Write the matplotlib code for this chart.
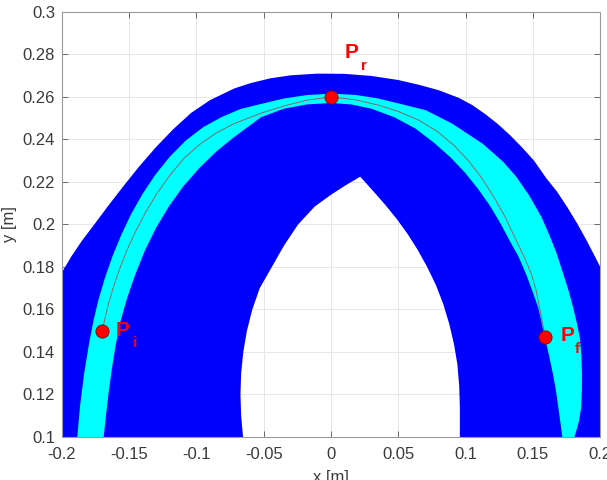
"""Workspace region with the planned end-effector path (Pi -> Pr -> Pf)."""

import matplotlib

matplotlib.use("Agg")

import matplotlib.pyplot as plt

plt.rcParams["font.family"] = ["Liberation Sans", "DejaVu Sans"]

# outer boundary of the reachable area (left to right)
outer_x = [-0.200, -0.193, -0.185, -0.176, -0.166, -0.155, -0.143, -0.130,
           -0.117, -0.104, -0.090, -0.072, -0.060, -0.045, -0.030, -0.010,
           0.010, 0.030, 0.050, 0.065, 0.080, 0.095, 0.105, 0.115, 0.124,
           0.133, 0.142, 0.151, 0.160, 0.168, 0.176, 0.183, 0.190, 0.196, 0.200]
outer_y = [0.1775, 0.1850, 0.1925, 0.2000, 0.2085, 0.2175, 0.2270, 0.2365,
           0.2450, 0.2525, 0.2585, 0.2640, 0.2665, 0.2688, 0.2702, 0.2710,
           0.2709, 0.2699, 0.2680, 0.2658, 0.2632, 0.2596, 0.2562, 0.2518,
           0.2473, 0.2421, 0.2363, 0.2300, 0.2218, 0.2155, 0.2078, 0.2005,
           0.1925, 0.1852, 0.1802]

# unreachable pocket in the middle (left foot -> apex -> right foot)
hole_x = [-0.0654, -0.0668, -0.0673, -0.0668, -0.0652, -0.0625, -0.0585,
          -0.0530, -0.0440, -0.0350, -0.0245, -0.0120, 0.0000, 0.0110,
          0.0217, 0.0310, 0.0400, 0.0490, 0.0570, 0.0645, 0.0715, 0.0780,
          0.0835, 0.0880, 0.0915, 0.0940, 0.0953, 0.0958, 0.0958]
hole_y = [0.100, 0.110, 0.120, 0.130, 0.140, 0.150, 0.160, 0.170, 0.180,
          0.190, 0.200, 0.2085, 0.2140, 0.2185, 0.2225, 0.2160, 0.2095,
          0.2025, 0.1955, 0.1880, 0.1800, 0.1715, 0.1625, 0.1530, 0.1435,
          0.1340, 0.1240, 0.1140, 0.100]

# cyan band: outer edge (left foot -> top -> right foot)
band_out_x = [-0.1886, -0.1865, -0.1835, -0.1796, -0.1765, -0.1727, -0.1680,
              -0.1625, -0.1560, -0.1485, -0.1400, -0.1305, -0.1200, -0.1080,
              -0.0950, -0.0815, -0.0675, -0.0516, -0.0350, -0.0180, 0.0000,
              0.0180, 0.0350, 0.0520, 0.0704, 0.0900, 0.1128, 0.1280, 0.1377,
              0.1475, 0.1565, 0.1627, 0.1677, 0.1727, 0.1768, 0.1800, 0.1828,
              0.1850, 0.1862, 0.1866, 0.1865, 0.1860, 0.1842, 0.1810]
band_out_y = [0.1000, 0.1150, 0.1300, 0.1450, 0.1550, 0.1650, 0.1750, 0.1850,
              0.1950, 0.2050, 0.2145, 0.2235, 0.2318, 0.2395, 0.2458, 0.2505,
              0.2543, 0.2568, 0.2593, 0.2609, 0.2616, 0.2610, 0.2593, 0.2567,
              0.2538, 0.2475, 0.2380, 0.2295, 0.2225, 0.2135, 0.2035, 0.1945,
              0.1865, 0.1767, 0.1685, 0.1610, 0.1535, 0.1468, 0.1380, 0.1296,
              0.1220, 0.1138, 0.1070, 0.1000]

# cyan band: inner edge (right foot -> top -> left foot)
band_in_x = [0.1720, 0.1705, 0.1690, 0.1672, 0.1650, 0.1622, 0.1590, 0.1567,
             0.1540, 0.1498, 0.1450, 0.1393, 0.1327, 0.1260, 0.1180, 0.1090,
             0.0995, 0.0890, 0.0765, 0.0629, 0.0470, 0.0300, 0.0150, 0.0000,
             -0.0180, -0.0350, -0.0520, -0.0719, -0.0850, -0.0980, -0.1100,
             -0.1205, -0.1300, -0.1385, -0.1455, -0.1515, -0.1565, -0.1600,
             -0.1628, -0.1652, -0.1672, -0.1690]
band_in_y = [0.1000, 0.1070, 0.1138, 0.1220, 0.1296, 0.1380, 0.1468, 0.1535,
             0.1610, 0.1685, 0.1767, 0.1850, 0.1925, 0.2005, 0.2090, 0.2170,
             0.2245, 0.2315, 0.2385, 0.2451, 0.2505, 0.2545, 0.2565, 0.2572,
             0.2565, 0.2545, 0.2505, 0.2412, 0.2345, 0.2265, 0.2178, 0.2085,
             0.1985, 0.1875, 0.1765, 0.1655, 0.1545, 0.1435, 0.1325, 0.1215,
             0.1105, 0.1000]

# planned path Pi -> Pr -> Pf
path_x = [-0.1700, -0.1683, -0.1655, -0.1620, -0.1575, -0.1520, -0.1455,
          -0.1380, -0.1295, -0.1200, -0.1095, -0.0980, -0.0855, -0.0719,
          -0.0516, -0.0350, -0.0180, 0.0000, 0.0180, 0.0350, 0.0500, 0.0650,
          0.0790, 0.0915, 0.1025, 0.1125, 0.1215, 0.1295, 0.1377, 0.1438,
          0.1490, 0.1525, 0.1550, 0.1572, 0.1590]
path_y = [0.1500, 0.1550, 0.1625, 0.1700, 0.1785, 0.1875, 0.1965, 0.2055,
          0.2145, 0.2230, 0.2310, 0.2375, 0.2430, 0.2475, 0.2525, 0.2558,
          0.2585, 0.2600, 0.2587, 0.2562, 0.2532, 0.2492, 0.2438, 0.2372,
          0.2298, 0.2215, 0.2125, 0.2035, 0.1925, 0.1845, 0.1767, 0.1690,
          0.1610, 0.1540, 0.1470]

# key points and their labels
point_names = ["i", "r", "f"]
point_x = [-0.170, 0.000, 0.159]
point_y = [0.150, 0.260, 0.147]

xticks = [-0.2, -0.15, -0.1, -0.05, 0, 0.05, 0.1, 0.15, 0.2]
xtick_labels = ["-0.2", "-0.15", "-0.1", "-0.05", "0", "0.05", "0.1", "0.15", "0.2"]
yticks = [0.1, 0.12, 0.14, 0.16, 0.18, 0.2, 0.22, 0.24, 0.26, 0.28, 0.3]
ytick_labels = ["0.1", "0.12", "0.14", "0.16", "0.18", "0.2", "0.22", "0.24",
                "0.26", "0.28", "0.3"]

# label anchors (P and subscript), offsets from each point in data units
label_dx = [0.0097, 0.0101, 0.0117]
label_dy = [-0.0024, 0.0183, -0.0017]
sub_dx = [0.0226, 0.0225, 0.0220]
sub_dy = [-0.0075, 0.0126, -0.0074]


def main() -> None:
    fig = plt.figure(figsize=(6.07, 4.8), dpi=100)
    ax = fig.add_axes([0.1021, 0.0896, 0.8864, 0.8854])

    # blue area as one polygon: arch on top, pocket cut up from the bottom
    blue_x = [outer_x[0]] + outer_x + [outer_x[-1]] + hole_x[::-1]
    blue_y = [0.1] + outer_y + [0.1] + hole_y[::-1]
    ax.fill(blue_x, blue_y, color="#0000ff", linewidth=0, zorder=2)

    ax.fill(band_out_x + band_in_x, band_out_y + band_in_y,
            color="#00ffff", linewidth=0, zorder=3)

    ax.plot(path_x, path_y, color="#7d6b66", linewidth=0.7, zorder=4)
    ax.plot(point_x, point_y, "o", color="red", markeredgecolor="#8a0000",
            markersize=9.5, markeredgewidth=0.6, linestyle="none", zorder=5)

    for name, x, y, ldx, ldy, sdx, sdy in zip(
        point_names, point_x, point_y, label_dx, label_dy, sub_dx, sub_dy
    ):
        ax.text(x + ldx, y + ldy, "P", color="red", fontsize=15,
                fontweight="bold", ha="left", va="baseline", zorder=6)
        ax.text(x + sdx, y + sdy, name, color="red", fontsize=11,
                fontweight="bold", ha="left", va="baseline", zorder=6)

    ax.set_xlim(-0.2, 0.2)
    ax.set_ylim(0.1, 0.3)
    ax.set_xticks(xticks)
    ax.set_xticklabels(xtick_labels)
    ax.set_yticks(yticks)
    ax.set_yticklabels(ytick_labels)
    ax.tick_params(direction="in", length=4, width=0.6, colors="#555555",
                   labelcolor="#3a3a3a", labelsize=12, top=True, right=True)
    ax.tick_params(axis="x", pad=7)
    ax.tick_params(axis="y", pad=5)
    ax.grid(True, color="#e6e6e6", linewidth=0.7)
    ax.set_axisbelow(True)
    for spine in ax.spines.values():
        spine.set_color("#9a9a9a")
        spine.set_linewidth(0.8)

    ax.set_xlabel("x [m]", fontsize=12, color="#3a3a3a", labelpad=6)
    ax.set_ylabel("y [m]", fontsize=12, color="#3a3a3a", labelpad=4)

    fig.savefig("out.png", dpi=100)
    plt.close(fig)


if __name__ == "__main__":
    main()
